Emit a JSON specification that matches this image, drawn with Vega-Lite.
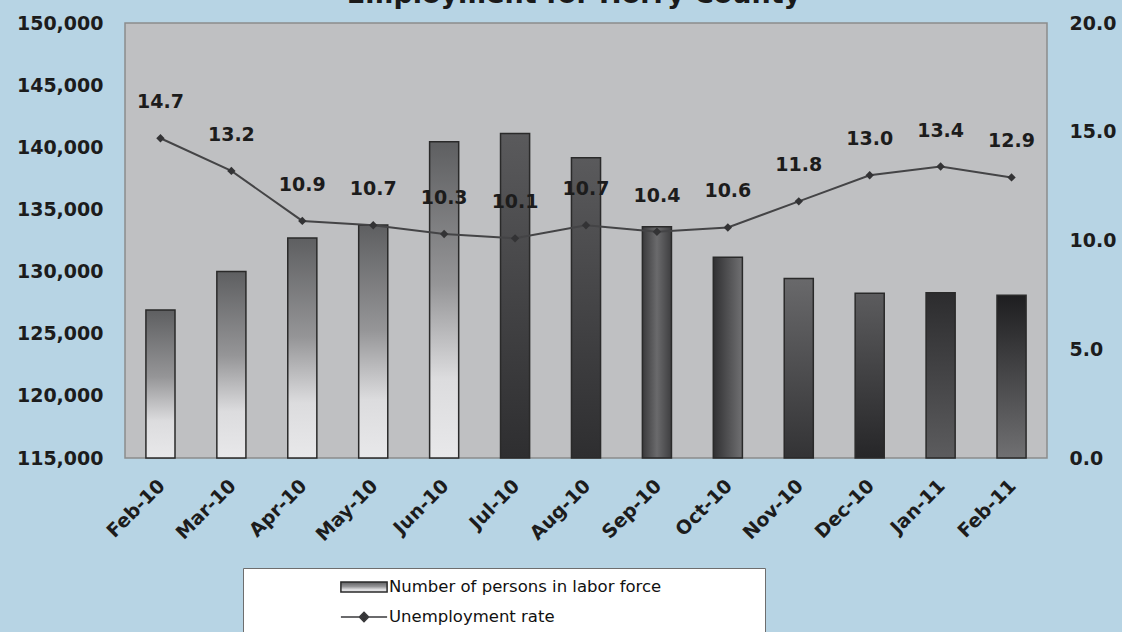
{
  "$schema": "https://vega.github.io/schema/vega-lite/v6.json",
  "width": 922,
  "height": 435,
  "autosize": {"type": "none"},
  "padding": {"left": 125, "top": 23, "right": 75, "bottom": 174},
  "background": "#b7d4e4",
  "title": {
    "text": "Employment for Horry County",
    "font": "DejaVu Sans",
    "fontSize": 27,
    "fontWeight": "bold",
    "color": "#1a1a1a",
    "anchor": "middle",
    "baseline": "alphabetic",
    "offset": 1,
    "dx": -12,
    "dy": 17
  },
  "config": {
    "view": {"fill": "#bfc0c2", "stroke": "#8c8c8c", "strokeWidth": 1.5},
    "axis": {
      "labelFont": "DejaVu Sans",
      "labelFontSize": 19,
      "labelFontWeight": "bold",
      "labelColor": "#1c1c1c",
      "ticks": false,
      "grid": false,
      "domain": false,
      "title": null
    }
  },
  "data": {
    "values": [
      {"month": "Feb-10", "labor": 126900, "rate": 14.7},
      {"month": "Mar-10", "labor": 130000, "rate": 13.2},
      {"month": "Apr-10", "labor": 132700, "rate": 10.9},
      {"month": "May-10", "labor": 133750, "rate": 10.7},
      {"month": "Jun-10", "labor": 140450, "rate": 10.3},
      {"month": "Jul-10", "labor": 141100, "rate": 10.1},
      {"month": "Aug-10", "labor": 139150, "rate": 10.7},
      {"month": "Sep-10", "labor": 133600, "rate": 10.4},
      {"month": "Oct-10", "labor": 131150, "rate": 10.6},
      {"month": "Nov-10", "labor": 129450, "rate": 11.8},
      {"month": "Dec-10", "labor": 128250, "rate": 13.0},
      {"month": "Jan-11", "labor": 128300, "rate": 13.4},
      {"month": "Feb-11", "labor": 128100, "rate": 12.9}
    ]
  },
  "encoding": {
    "x": {
      "field": "month",
      "type": "nominal",
      "sort": null,
      "scale": {"paddingInner": 0.59, "paddingOuter": 0.295},
      "axis": {"labelAngle": -45, "labelPadding": 18, "labelOffset": -5}
    }
  },
  "layer": [
    {
      "layer": [
        {
          "transform": [{"filter": {"field": "month", "oneOf": ["Feb-10", "Mar-10", "Apr-10", "May-10", "Jun-10"]}}],
          "mark": {"type": "bar", "strokeWidth": 1.5, "fill": {"gradient": "linear", "x1": 0, "y1": 0, "x2": 0, "y2": 1, "stops": [{"offset": 0, "color": "#5e5f61"}, {"offset": 0.45, "color": "#959597"}, {"offset": 0.75, "color": "#dcdcde"}, {"offset": 1, "color": "#e8e8ea"}]}}
        },
        {
          "transform": [{"filter": {"field": "month", "oneOf": ["Jul-10", "Aug-10"]}}],
          "mark": {"type": "bar", "strokeWidth": 1.5, "fill": {"gradient": "linear", "x1": 0, "y1": 0, "x2": 0, "y2": 1, "stops": [{"offset": 0, "color": "#5a5a5c"}, {"offset": 0.5, "color": "#444446"}, {"offset": 1, "color": "#2e2e30"}]}}
        },
        {
          "transform": [{"filter": {"field": "month", "equal": "Sep-10"}}],
          "mark": {"type": "bar", "strokeWidth": 1.5, "fill": {"gradient": "linear", "x1": 0, "y1": 0, "x2": 1, "y2": 0, "stops": [{"offset": 0, "color": "#3a3a3c"}, {"offset": 0.5, "color": "#6a6a6c"}, {"offset": 1, "color": "#3e3e40"}]}}
        },
        {
          "transform": [{"filter": {"field": "month", "equal": "Oct-10"}}],
          "mark": {"type": "bar", "strokeWidth": 1.5, "fill": {"gradient": "linear", "x1": 0, "y1": 0, "x2": 1, "y2": 0, "stops": [{"offset": 0, "color": "#303032"}, {"offset": 1, "color": "#707072"}]}}
        },
        {
          "transform": [{"filter": {"field": "month", "equal": "Nov-10"}}],
          "mark": {"type": "bar", "strokeWidth": 1.5, "fill": {"gradient": "linear", "x1": 0, "y1": 0, "x2": 0, "y2": 1, "stops": [{"offset": 0, "color": "#69696b"}, {"offset": 1, "color": "#333335"}]}}
        },
        {
          "transform": [{"filter": {"field": "month", "equal": "Dec-10"}}],
          "mark": {"type": "bar", "strokeWidth": 1.5, "fill": {"gradient": "linear", "x1": 0, "y1": 0, "x2": 0, "y2": 1, "stops": [{"offset": 0, "color": "#5c5c5e"}, {"offset": 1, "color": "#262628"}]}}
        },
        {
          "transform": [{"filter": {"field": "month", "equal": "Jan-11"}}],
          "mark": {"type": "bar", "strokeWidth": 1.5, "fill": {"gradient": "linear", "x1": 0, "y1": 0, "x2": 0, "y2": 1, "stops": [{"offset": 0, "color": "#2c2c2e"}, {"offset": 1, "color": "#5c5c5e"}]}}
        },
        {
          "transform": [{"filter": {"field": "month", "equal": "Feb-11"}}],
          "mark": {"type": "bar", "strokeWidth": 1.5, "fill": {"gradient": "linear", "x1": 0, "y1": 0, "x2": 0, "y2": 1, "stops": [{"offset": 0, "color": "#1e1e20"}, {"offset": 1, "color": "#707072"}]}}
        }
      ],
      "encoding": {
        "y": {
          "field": "labor",
          "type": "quantitative",
          "scale": {"domain": [115000, 150000], "zero": false, "nice": false},
          "axis": {"values": [115000, 120000, 125000, 130000, 135000, 140000, 145000, 150000], "format": ",.0f", "labelPadding": 22, "orient": "left"}
        },
        "y2": {"datum": 115000},
        "stroke": {
          "datum": "Number of persons in labor force",
          "type": "nominal",
          "scale": {"range": ["#2a2a2a"]},
          "legend": {
            "orient": "none",
            "legendX": 118,
            "legendY": 545,
            "direction": "vertical",
            "title": "\u00a0",
            "titleOrient": "bottom",
            "titleFont": "DejaVu Sans",
            "titleFontSize": 30,
            "titleLimit": 2000,
            "titlePadding": 4,
            "fillColor": "#ffffff",
            "strokeColor": "#6e6e6e",
            "padding": 7,
            "labelFont": "DejaVu Sans",
            "labelFontSize": 16.5,
            "labelColor": "#111111",
            "labelLimit": 800,
            "labelExpr": "datum.label + '\u2800\u2800\u2800\u2800\u2800\u2800\u2800\u2800'",
            "symbolType": "M-2.1,-0.45H2.1V0.45H-2.1Z",
            "symbolSize": 484,
            "symbolStrokeWidth": 1.5,
            "symbolOffset": 102,
            "labelOffset": 13
          }
        }
      }
    },
    {
      "encoding": {
        "y": {
          "field": "rate",
          "type": "quantitative",
          "scale": {"domain": [0, 20], "nice": false},
          "axis": {"values": [0, 5, 10, 15, 20], "format": ".1f", "labelPadding": 22, "orient": "right"}
        }
      },
      "layer": [
        {
          "mark": {"type": "line", "strokeWidth": 2, "color": "#444446"},
          "encoding": {}
        },
        {
          "mark": {"type": "point", "shape": "diamond", "filled": true, "size": 70, "color": "#333335", "opacity": 1}
        },
        {
          "transform": [{"filter": "false"}],
          "mark": {"type": "point", "filled": true, "color": "#333335", "stroke": "#3a3a3c", "strokeWidth": 1.5, "opacity": 1},
          "encoding": {
            "shape": {
              "datum": "Unemployment rate",
              "type": "nominal",
              "scale": {"range": ["M-2.1,0H2.1M0,-0.42L0.42,0L0,0.42L-0.42,0Z"]},
              "legend": {
                "orient": "none",
                "legendX": 118,
                "legendY": 575,
                "direction": "vertical",
                "title": null,
                "fillColor": "transparent",
                "strokeColor": "transparent",
                "padding": 7,
                "labelFont": "DejaVu Sans",
                "labelFontSize": 16.5,
                "labelColor": "#111111",
                "labelLimit": 600,
                "symbolSize": 484,
                "symbolStrokeWidth": 1.5,
                "symbolOffset": 102,
                "labelOffset": 13
              }
            }
          }
        },
        {
          "mark": {"type": "text", "font": "DejaVu Sans", "fontSize": 19, "fontWeight": "bold", "color": "#1c1c1c", "dy": -36},
          "encoding": {"text": {"field": "rate", "type": "quantitative", "format": ".1f"}}
        }
      ]
    }
  ],
  "resolve": {"scale": {"y": "independent"}}
}
